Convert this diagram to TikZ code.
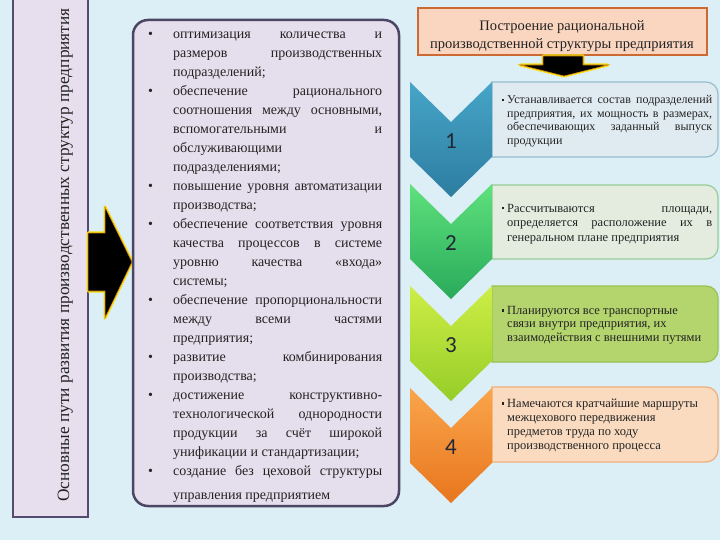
\documentclass[tikz,border=0pt]{standalone}
\usepackage{fontspec}
\setmainfont{Liberation Serif}
\newfontfamily\numfont{Carlito}
\definecolor{bg}{RGB}{220,238,246}
\definecolor{leftfill}{RGB}{231,223,237}
\definecolor{leftdraw}{RGB}{85,75,110}
\definecolor{midfill}{RGB}{229,222,236}
\definecolor{middraw}{RGB}{75,70,100}
\definecolor{headfill}{RGB}{250,214,192}
\definecolor{headdraw}{RGB}{205,105,50}
\definecolor{glow}{RGB}{250,225,20}
\definecolor{glowedge}{RGB}{215,140,20}
\definecolor{txt}{RGB}{35,35,35}
\definecolor{ca1}{RGB}{70,165,200}\definecolor{cb1}{RGB}{45,125,160}
\definecolor{ca2}{RGB}{95,225,125}\definecolor{cb2}{RGB}{40,170,90}
\definecolor{ca3}{RGB}{205,238,70}\definecolor{cb3}{RGB}{150,205,40}
\definecolor{ca4}{RGB}{250,165,75}\definecolor{cb4}{RGB}{232,118,30}
\definecolor{bf1}{RGB}{224,235,241}\definecolor{bd1}{RGB}{150,190,205}
\definecolor{bf2}{RGB}{227,236,223}\definecolor{bd2}{RGB}{150,205,150}
\definecolor{bf3}{RGB}{180,212,110}\definecolor{bd3}{RGB}{150,195,80}
\definecolor{bf4}{RGB}{250,219,192}\definecolor{bd4}{RGB}{240,175,120}
\newcommand{\mybul}{\leavevmode\llap{\makebox[25pt][l]{•}}}
\newcommand{\mysq}{\leavevmode\llap{\rule[2.5pt]{2.6pt}{2.6pt}\hspace{3pt}}}
\tikzset{
  txtnode/.style={inner sep=0pt, anchor=base west, text=txt},
  boxtxt/.style={txtnode, font=\fontsize{12.5}{13.8}\selectfont},
  glowarrow/.style={draw=glow, line width=3pt, line join=round},
  blackarrow/.style={fill=black, draw=glowedge, line width=0.6pt, line join=miter},
}
\begin{document}
\begin{tikzpicture}[x=1pt,y=-1pt]
\fill[bg] (0,0) rectangle (720,540);
\useasboundingbox (0,0) rectangle (720,540);
\hyphenpenalty=10000 \exhyphenpenalty=10000 \tolerance=9999 \emergencystretch=0pt
% left box
\draw[fill=leftfill, draw=leftdraw, line width=2pt] (13,-3) rectangle (88,517);
\node[coordinate] (leftbox) at (50,257) {};
\node[rotate=90, anchor=base, inner sep=0pt, text=txt, font=\fontsize{17.3}{17.3}\selectfont] (lefttext) at (69,255)
  {Основные пути развития производственных структур предприятия};
% left arrow
\path[glowarrow] (88,233) -- (105,233) -- (105,207) -- (132,262) -- (105,318) -- (105,291) -- (88,291) -- cycle;
\path[blackarrow] (88,233) -- (105,233) -- (105,207) -- (132,262) -- (105,318) -- (105,291) -- (88,291) -- cycle;
% middle box
\draw[fill=midfill, draw=middraw, line width=2.5pt, rounded corners=15pt] (133,20) rectangle (399,506);
\node[coordinate] (midbox) at (266,263) {};
\node[txtnode] (midtext) at (173,39) {\parbox[t]{209pt}{\fontsize{14}{19}\selectfont\parindent=0pt\parskip=0pt
\mybul оптимизация количества и\linebreak размеров производственных\linebreak подразделений;\par
\mybul обеспечение рационального\linebreak соотношения между основными,\linebreak вспомогательными и\linebreak обслуживающими\newline подразделениями;\par
\mybul повышение уровня автоматизации\linebreak производства;\par
\mybul обеспечение соответствия уровня\linebreak качества процессов в системе\linebreak уровню качества «входа»\linebreak системы;\par
\mybul обеспечение пропорциональности\linebreak между всеми частями\linebreak предприятия;\par
\mybul развитие комбинирования\linebreak производства;\par
\mybul достижение конструктивно-\linebreak технологической однородности\linebreak продукции за счёт широкой\linebreak унификации и стандартизации;\par
\mybul создание без цеховой структуры\vadjust{\vskip5pt}\linebreak управления предприятием}};
% header
\draw[fill=headfill, draw=headdraw, line width=2pt] (418,8) rectangle (707,55);
\node[coordinate] (head) at (562,31) {};
\node[inner sep=0pt, anchor=base, align=center, text=txt, font=\fontsize{14.5}{18}\selectfont] (headtext) at (562,48.5)
  {Построение рациональной\\производственной структуры предприятия};
% down arrow
\path[glowarrow] (543,56) -- (583,56) -- (583,65) -- (608,65) -- (564,76) -- (520,65) -- (543,65) -- cycle;
\path[blackarrow] (543,56) -- (583,56) -- (583,65) -- (608,65) -- (564,76) -- (520,65) -- (543,65) -- cycle;
% right boxes
\foreach \T/\H/\i in {82/75/1, 185/74/2, 286/76/3, 387/75/4}{
  \draw[fill=bf\i, draw=bd\i, line width=1.2pt] (492,\T) [rounded corners=12pt] -- (718,\T) -- (718,\T+\H) [sharp corners] -- (492,\T+\H) -- cycle;
}
% chevrons
\foreach \T/\i in {82/1, 184/2, 286/3, 388/4}{
  \shade[top color=ca\i, bottom color=cb\i] (410,\T) -- (451,\T+40) -- (492,\T) -- (492,\T+75) -- (451,\T+115) -- (410,\T+75) -- cycle;
  \node[inner sep=0pt, text={rgb,255:red,35;green,40;blue,55}, font=\numfont\fontsize{23}{23}\selectfont] (num\i) at (451,\T+59) {\i};
}
% box texts
\node[boxtxt] (txt1) at (507,104) {\parbox[t]{205pt}{\fontsize{12}{13.5}\selectfont\mysq Устанавливается состав подразделений\linebreak предприятия, их мощность в размерах,\linebreak обеспечивающих заданный выпуск\linebreak продукции}};
\node[boxtxt] (txt2) at (507,212) {\parbox[t]{205pt}{\fontsize{12.5}{14.5}\selectfont\mysq Рассчитываются площади,\linebreak определяется расположение их в\linebreak генеральном плане предприятия}};
\node[boxtxt] (txt3) at (507,314) {\parbox[t]{205pt}{\fontsize{12.5}{13.5}\selectfont\mysq Планируются все транспортные\\ связи внутри предприятия, их\\ взаимодействия с внешними путями}};
\node[boxtxt] (txt4) at (507,407) {\parbox[t]{205pt}{\fontsize{12.5}{14}\selectfont\mysq Намечаются кратчайшие маршруты\\ межцехового передвижения\\ предметов труда по ходу\\ производственного процесса}};
\end{tikzpicture}
\end{document}
